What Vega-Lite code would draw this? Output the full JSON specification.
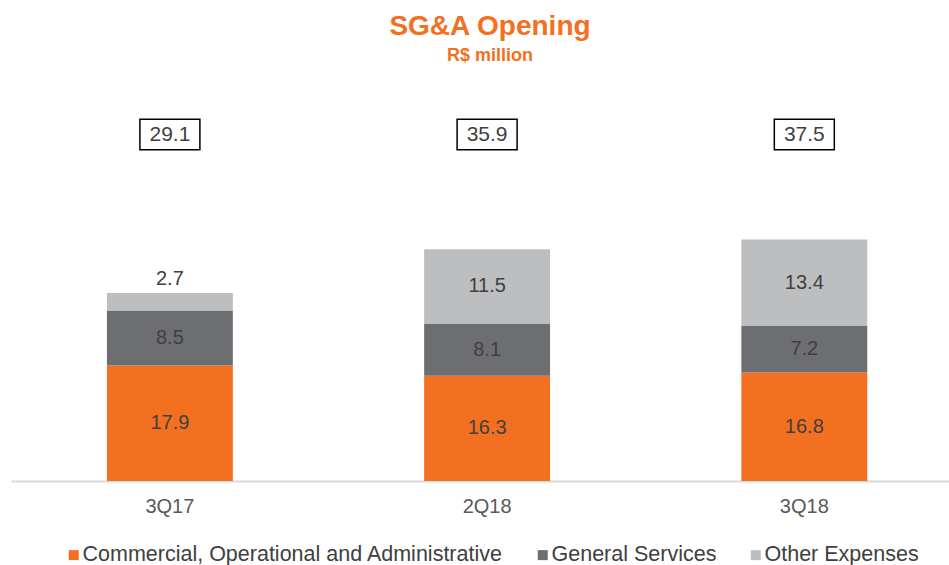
{
  "$schema": "https://vega.github.io/schema/vega-lite/v6.json",
  "width": 938,
  "height": 381,
  "autosize": {"type": "none"},
  "padding": {"left": 11, "top": 100, "right": 0, "bottom": 84},
  "background": "white",
  "config": {"font": "Liberation Sans", "view": {"stroke": null}},
  "title": {
    "text": "SG&A Opening",
    "subtitle": "R$ million",
    "color": "#F37021",
    "subtitleColor": "#F37021",
    "fontSize": 28,
    "fontWeight": "bold",
    "subtitleFontSize": 18,
    "subtitleFontWeight": "bold",
    "subtitlePadding": 6,
    "anchor": "middle",
    "dx": 10,
    "offset": 35,
    "font": "Liberation Sans",
    "subtitleFont": "Liberation Sans"
  },
  "datasets": {
    "parts": [
      {"period": "3Q17", "category": "Commercial, Operational and Administrative", "value": 17.9, "ord": 1},
      {"period": "3Q17", "category": "General Services", "value": 8.5, "ord": 2},
      {"period": "3Q17", "category": "Other Expenses", "value": 2.7, "ord": 3},
      {"period": "2Q18", "category": "Commercial, Operational and Administrative", "value": 16.3, "ord": 1},
      {"period": "2Q18", "category": "General Services", "value": 8.1, "ord": 2},
      {"period": "2Q18", "category": "Other Expenses", "value": 11.5, "ord": 3},
      {"period": "3Q18", "category": "Commercial, Operational and Administrative", "value": 16.8, "ord": 1},
      {"period": "3Q18", "category": "General Services", "value": 7.2, "ord": 2},
      {"period": "3Q18", "category": "Other Expenses", "value": 13.4, "ord": 3}
    ],
    "totals": [
      {"period": "3Q17", "total": 29.1},
      {"period": "2Q18", "total": 35.9},
      {"period": "3Q18", "total": 37.5}
    ]
  },
  "data": {"name": "parts"},
  "encoding": {
    "x": {
      "field": "period",
      "type": "nominal",
      "sort": ["3Q17", "2Q18", "3Q18"],
      "scale": {"paddingInner": 0.603, "paddingOuter": 0.28, "align": 0.54},
      "axis": {
        "title": null,
        "labelAngle": 0,
        "labelFontSize": 20,
        "labelColor": "#595959",
        "labelPadding": 15,
        "ticks": false,
        "domainColor": "#D9D9D9",
        "domainWidth": 2,
        "labelFont": "Liberation Sans"
      }
    }
  },
  "layer": [
    {
      "mark": {"type": "bar"},
      "encoding": {
        "y": {
          "field": "value",
          "type": "quantitative",
          "stack": "zero",
          "scale": {"domain": [0, 59], "nice": false},
          "axis": null
        },
        "order": {"field": "ord", "type": "quantitative"},
        "color": {
          "field": "category",
          "type": "nominal",
          "sort": ["Commercial, Operational and Administrative", "General Services", "Other Expenses"],
          "scale": {
            "domain": ["Commercial, Operational and Administrative", "General Services", "Other Expenses"],
            "range": ["#F37021", "#6D6E71", "#BDBEC0"]
          },
          "legend": {
            "title": null,
            "orient": "none",
            "legendX": 52,
            "legendY": 444,
            "direction": "horizontal",
            "symbolType": "square",
            "symbolSize": 100,
            "symbolStrokeWidth": 0,
            "labelFontSize": 21.5,
            "labelColor": "#404040",
            "labelFont": "Liberation Sans",
            "labelLimit": 600,
            "columnPadding": 28,
            "labelOffset": -2
          }
        }
      }
    },
    {
      "transform": [
        {"stack": "value", "groupby": ["period"], "sort": [{"field": "ord"}], "as": ["y0", "y1"]},
        {"calculate": "datum.value < 4 ? datum.y1 + 2.2 : (datum.y0 + datum.y1) / 2", "as": "ymid"}
      ],
      "mark": {"type": "text", "fontSize": 20, "color": "#404040", "font": "Liberation Sans"},
      "encoding": {
        "y": {"field": "ymid", "type": "quantitative"},
        "text": {"field": "value", "type": "quantitative", "format": ".1f"}
      }
    },
    {
      "data": {"name": "totals"},
      "layer": [
        {
          "mark": {"type": "bar", "width": 60, "fill": "white", "stroke": "black", "strokeWidth": 1.5},
          "encoding": {
            "y": {"datum": 51.3, "type": "quantitative"},
            "y2": {"datum": 56.0}
          }
        },
        {
          "mark": {"type": "text", "fontSize": 21, "color": "#404040", "font": "Liberation Sans"},
          "encoding": {
            "y": {"datum": 53.65, "type": "quantitative"},
            "text": {"field": "total", "type": "quantitative", "format": ".1f"}
          }
        }
      ]
    }
  ]
}
